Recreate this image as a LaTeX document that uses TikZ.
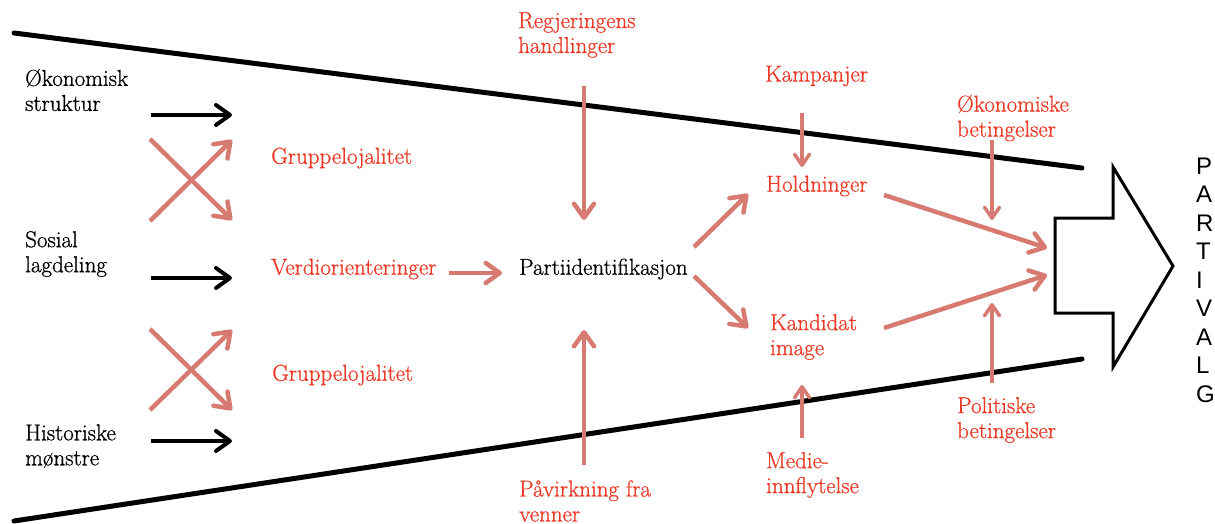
\documentclass[tikz,border=0pt]{standalone}
\usepackage{fontspec}
\setmainfont{Latin Modern Roman}[RawFeature={embolden=0.8}]
\newfontfamily\helv{Liberation Sans}
\usetikzlibrary{arrows.meta}
\definecolor{redtext}{RGB}{236,58,38}
\definecolor{salmon}{RGB}{214,122,114}
\begin{document}
\begin{tikzpicture}[x=1pt,y=-1pt,
  lbl/.style={inner sep=0pt, anchor=west, align=left, font=\fontsize{23}{25}\selectfont},
  blk/.style={lbl, text=black},
  rd/.style={lbl, text=redtext},
  barline/.style={line width=5pt, black, line cap=round},
  blackarrow/.style={line width=4pt, black, -{Straight Barb[length=14pt,width=20pt,round]}},
  redarrow/.style={line width=4.5pt, salmon, -{Straight Barb[length=14pt,width=20pt,round]}},
  smallarrow/.style={line width=3.5pt, salmon, -{Straight Barb[length=11pt,width=15pt,round]}},
  bigarrow/.style={line width=3pt, black, line join=miter},
]
\useasboundingbox (0,0) rectangle (1215,524);

% funnel lines
\coordinate (tl) at (14,33);
\coordinate (tr) at (1082,168);
\coordinate (bl) at (14,521);
\coordinate (br) at (1082,359);
\draw[barline] (tl) -- (tr);
\draw[barline] (bl) -- (br);

% labels
\node[blk] (oks) at (25,90) {Økonomisk\\struktur};
\node[blk] (sos) at (25,254) {Sosial\\lagdeling};
\node[blk] (his) at (25,446) {Historiske\\mønstre};
\node[rd] (gl1) at (271,158) {Gruppelojalitet};
\node[rd] (ver) at (271,269) {Verdiorienteringer};
\node[rd] (gl2) at (272,375) {Gruppelojalitet};
\node[blk] (par) at (519,269) {Partiidentifikasjon};
\node[rd] (reg) at (518,35) {Regjeringens\\handlinger};
\node[rd] (pav) at (519,501) {Påvirkning fra\\venner};
\node[rd] (kam) at (765,76) {Kampanjer};
\node[rd] (hol) at (766,186) {Holdninger};
\node[rd] (kan) at (770,337) {Kandidat\\image};
\node[rd] (med) at (766,475) {Medie-\\innflytelse};
\node[rd] (oek) at (957,118) {Økonomiske\\betingelser};
\node[rd] (pol) at (957,420) {Politiske\\betingelser};
\node[font=\helv\fontsize{24}{28.5}\selectfont, inner sep=0pt, anchor=west, align=left] (pv) at (1196,280) {P\\A\\R\\T\\I\\V\\A\\L\\G};

% big arrow
\draw[bigarrow] (1055,218) -- (1113,218) -- (1113,167) -- (1173,266) -- (1113,367) -- (1113,313) -- (1055,313) -- cycle;

% black arrows
\coordinate (b1s) at (151,115); \coordinate (b1e) at (232,115);
\coordinate (b2s) at (151,278); \coordinate (b2e) at (232,278);
\coordinate (b3s) at (151,441); \coordinate (b3e) at (232,441);
\draw[blackarrow] (b1s) -- (b1e);
\draw[blackarrow] (b2s) -- (b2e);
\draw[blackarrow] (b3s) -- (b3e);

% crossed red arrows
\coordinate (x1a) at (150,221); \coordinate (x1b) at (232,140);
\coordinate (x1c) at (150,139); \coordinate (x1d) at (232,220);
\coordinate (x2a) at (150,410); \coordinate (x2b) at (232,330);
\coordinate (x2c) at (150,329); \coordinate (x2d) at (232,410);
\draw[redarrow] (x1a) -- (x1b);
\draw[redarrow] (x1c) -- (x1d);
\draw[redarrow] (x2a) -- (x2b);
\draw[redarrow] (x2c) -- (x2d);

% other red arrows
\coordinate (vs) at (449,273); \coordinate (ve) at (502,273);
\draw[redarrow] (vs) -- (ve);
\coordinate (rs) at (584,86); \coordinate (re) at (584,220);
\draw[redarrow] (rs) -- (re);
\coordinate (ps) at (584,465); \coordinate (pe) at (584,330);
\draw[redarrow] (ps) -- (pe);
\coordinate (ph1) at (694,247); \coordinate (ph2) at (748,194);
\draw[redarrow] (ph1) -- (ph2);
\coordinate (pk1) at (694,276); \coordinate (pk2) at (748,328);
\draw[redarrow] (pk1) -- (pk2);
\coordinate (hb1) at (884,195); \coordinate (hb2) at (1047,248);
\draw[redarrow] (hb1) -- (hb2);
\coordinate (kb1) at (884,328); \coordinate (kb2) at (1047,275);
\draw[redarrow] (kb1) -- (kb2);

\coordinate (ks) at (802,113); \coordinate (ke) at (802,167);
\draw[smallarrow] (ks) -- (ke);
\coordinate (ms) at (802,438); \coordinate (me) at (802,385);
\draw[smallarrow] (ms) -- (me);
\coordinate (os) at (992,140); \coordinate (oe) at (992,220);
\draw[smallarrow] (os) -- (oe);
\coordinate (pls) at (992,383); \coordinate (ple) at (992,303);
\draw[smallarrow] (pls) -- (ple);
\end{tikzpicture}
\end{document}
